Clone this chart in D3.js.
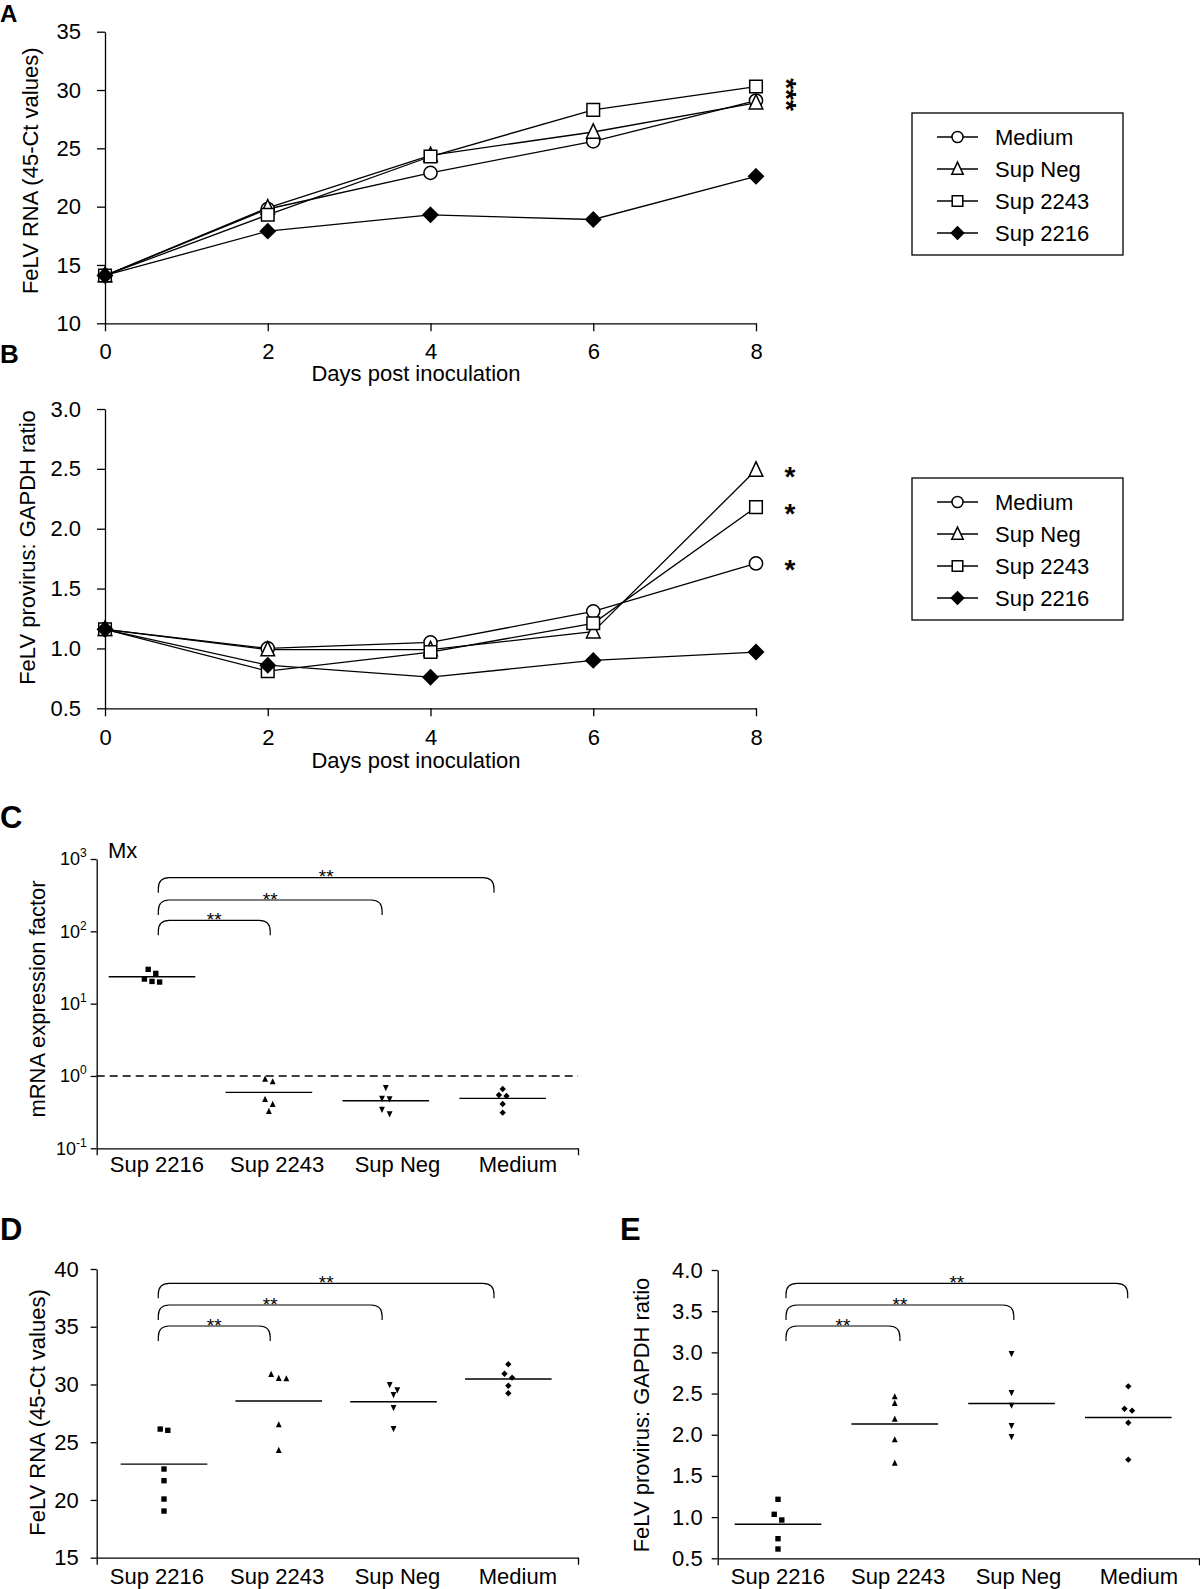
<!DOCTYPE html>
<html><head><meta charset="utf-8">
<script src="https://cdn.jsdelivr.net/npm/d3@7"></script>
<style>
body{margin:0;background:#fff}
svg{display:block}
text{font-family:'Liberation Sans',Arial,Helvetica,sans-serif;fill:#000}
</style>
</head><body><script>
// ---------------- data ----------------
const days = [0, 2, 4, 6, 8];
const rnaTicks = [10, 15, 20, 25, 30, 35];
const provTicks = [0.5, 1.0, 1.5, 2.0, 2.5, 3.0];
const seriesNames = ["Medium", "Sup Neg", "Sup 2243", "Sup 2216"];
// Panel A: FeLV RNA (45-Ct) over days
const rnaMedium  = [14.1, 19.8, 22.9, 25.6, 29.1];
const rnaSupNeg  = [14.1, 19.9, 24.4, 26.4, 28.9];
const rnaSup2243 = [14.1, 19.3, 24.3, 28.3, 30.3];
const rnaSup2216 = [14.1, 17.9, 19.3, 18.9, 22.6];
// Panel B: provirus:GAPDH over days
const provMedium  = [1.16, 1.00, 1.05, 1.31, 1.71];
const provSupNeg  = [1.16, 0.99, 0.99, 1.14, 2.49];
const provSup2243 = [1.16, 0.81, 0.97, 1.21, 2.18];
const provSup2216 = [1.16, 0.86, 0.76, 0.90, 0.97];
const sigA = "***";
const sigB = ["*", "*", "*"]; // Sup Neg, Sup 2243, Medium at day 8

// Panels C-E groups
const groups = ["Sup 2216", "Sup 2243", "Sup Neg", "Medium"];
// Panel C: Mx mRNA expression factor (log)
const mxTicks = [0.1, 1, 10, 100, 1000];
const mxSup2216 = [29.8, 26.2, 21.9, 20.3, 19.9];
const mxSup2243 = [0.909, 0.834, 0.475, 0.405, 0.324];
const mxSupNeg  = [0.689, 0.490, 0.481, 0.345, 0.298];
const mxMedium  = [0.661, 0.546, 0.529, 0.410, 0.311];
const mxMeans   = [23.6, 0.593, 0.455, 0.49];
// Panel D: FeLV RNA (45-Ct)
const rnaDTicks = [15, 20, 25, 30, 35, 40];
const rnaDSup2216 = [26.14, 26.03, 22.68, 21.67, 20.08, 19.04];
const rnaDSup2243 = [30.88, 30.53, 30.50, 26.52, 24.30];
const rnaDSupNeg  = [29.98, 29.52, 29.12, 27.99, 26.17];
const rnaDMedium  = [31.75, 30.93, 30.59, 29.89, 29.24];
const rnaDMeans   = [23.1, 28.57, 28.51, 30.47];
// Panel E: provirus:GAPDH
const provETicks = [0.5, 1.0, 1.5, 2.0, 2.5, 3.0, 3.5, 4.0];
const provESup2216 = [1.216, 1.034, 0.965, 0.738, 0.613];
const provESup2243 = [2.462, 2.382, 2.191, 1.940, 1.657];
const provESupNeg  = [2.984, 2.510, 2.357, 2.110, 1.976];
const provEMedium  = [2.588, 2.316, 2.292, 2.146, 1.697];
const provEMeans   = [0.913, 2.13, 2.38, 2.21];
const sigBrackets = ["**", "**", "**"]; // Sup 2216 vs Sup 2243, Sup Neg, Medium

// ---------------- drawing ----------------
const svg = d3.select("body").append("svg").attr("width", 1200).attr("height", 1589);
const FS = 22;

function shape(kind) {
  return { draw(ctx, size) {
    const s = Math.sqrt(size) / 14;
    if (kind === "circle") { const r = 6.6 * s; ctx.moveTo(r, 0); ctx.arc(0, 0, r, 0, 2 * Math.PI); }
    else if (kind === "square") { const h = 6.3 * s; ctx.rect(-h, -h, 2 * h, 2 * h); }
    else if (kind === "triangle") { ctx.moveTo(0, -8.2 * s); ctx.lineTo(6.8 * s, 6.2 * s); ctx.lineTo(-6.8 * s, 6.2 * s); ctx.closePath(); }
    else if (kind === "tdown") { ctx.moveTo(0, 8.2 * s); ctx.lineTo(6.8 * s, -6.2 * s); ctx.lineTo(-6.8 * s, -6.2 * s); ctx.closePath(); }
    else if (kind === "diamond") { const h = 7.4 * s; ctx.moveTo(0, -h); ctx.lineTo(h, 0); ctx.lineTo(0, h); ctx.lineTo(-h, 0); ctx.closePath(); }
  }};
}
const lineStyle = {
  "Medium":   { kind: "circle",   fill: "#fff" },
  "Sup Neg":  { kind: "triangle", fill: "#fff" },
  "Sup 2243": { kind: "square",   fill: "#fff" },
  "Sup 2216": { kind: "diamond",  fill: "#000" }
};
const dotKind = { "Sup 2216": "square", "Sup 2243": "triangle", "Sup Neg": "tdown", "Medium": "diamond" };

function styleAxis(g) {
  g.attr("font-size", FS).attr("font-family", null);
  g.selectAll("path,line").attr("stroke", "#000").attr("stroke-width", 1.3);
}
function panelLetter(txt, x, y, fs) {
  svg.append("text").attr("x", x).attr("y", y).attr("font-size", fs).attr("font-weight", "bold").text(txt);
}
function yTitle(txt, x, y) {
  svg.append("text").attr("transform", `translate(${x},${y}) rotate(-90)`)
    .attr("text-anchor", "middle").attr("font-size", FS).text(txt);
}

// ---- line panels (A, B) ----
function linePanel(o) {
  const x = d3.scaleLinear().domain([0, 8]).range([105, 756]);
  const y = d3.scaleLinear().domain(o.domain).range(o.range);
  svg.append("g").attr("transform", `translate(0,${o.range[0]})`)
    .call(d3.axisBottom(x).tickValues(days).tickSize(8).tickSizeOuter(0).tickPadding(o.xPad)).call(styleAxis);
  svg.append("g").attr("transform", `translate(${x.range()[0]},0)`)
    .call(d3.axisLeft(y).tickValues(o.ticks).tickSize(8).tickSizeOuter(0).tickPadding(16).tickFormat(o.fmt)).call(styleAxis);
  svg.append("text").attr("x", 416).attr("y", o.range[0] + o.titleOff).attr("text-anchor", "middle")
    .attr("font-size", FS).text("Days post inoculation");
  const line = d3.line().x((d, i) => x(days[i])).y(d => y(d));
  const g = svg.append("g");
  o.series.forEach(vals => g.append("path").attr("d", line(vals)).attr("fill", "none")
    .attr("stroke", "#000").attr("stroke-width", 1.3));
  o.series.forEach((vals, si) => {
    const st = lineStyle[seriesNames[si]];
    g.selectAll(null).data(vals).join("path")
      .attr("transform", (d, i) => `translate(${x(days[i])},${y(d)})`)
      .attr("d", d3.symbol().type(shape(st.kind)).size(196)())
      .attr("fill", st.fill).attr("stroke", "#000").attr("stroke-width", 1.5);
  });
  // legend
  const lg = svg.append("g").attr("transform", `translate(${o.legend[0]},${o.legend[1]})`);
  lg.append("rect").attr("x", 0).attr("y", 0).attr("width", 211).attr("height", 142)
    .attr("fill", "#fff").attr("stroke", "#000").attr("stroke-width", 1.3);
  seriesNames.forEach((nm, i) => {
    const yy = 24 + i * 32;
    lg.append("line").attr("x1", 25).attr("x2", 66).attr("y1", yy).attr("y2", yy).attr("stroke", "#000").attr("stroke-width", 1.3);
    lg.append("path").attr("transform", `translate(45.5,${yy})`)
      .attr("d", d3.symbol().type(shape(lineStyle[nm].kind)).size(138)())
      .attr("fill", lineStyle[nm].fill).attr("stroke", "#000").attr("stroke-width", 1.5);
    lg.append("text").attr("x", 83).attr("y", yy).attr("dy", "0.36em").attr("font-size", FS).text(nm);
  });
  return { x, y };
}

// Panel A
panelLetter("A", 0, 22, 24);
const pA = linePanel({ domain: [10, 35], range: [323.3, 31.7], ticks: rnaTicks, fmt: d3.format("d"), xPad: 12,
  titleOff: 57.5, series: [rnaMedium, rnaSupNeg, rnaSup2243, rnaSup2216], legend: [912, 113] });
yTitle("FeLV RNA (45-Ct values)", 37.5, 170.8);
// stacked "***" drawn as one vertical string
svg.append("text")
  .attr("transform", `translate(${pA.x(8) + 34 - 13},${pA.y(rnaSup2243[4]) + 8}) rotate(90)`)
  .attr("text-anchor", "middle").attr("font-size", 28).attr("font-weight", "bold").text(sigA);

// Panel B
panelLetter("B", 0, 363, 26);
const pB = linePanel({ domain: [0.5, 3.0], range: [708.3, 409], ticks: provTicks, fmt: d3.format(".1f"), xPad: 13.5,
  titleOff: 59.2, series: [provMedium, provSupNeg, provSup2243, provSup2216], legend: [912, 478] });
yTitle("FeLV provirus: GAPDH ratio", 35, 547.5);
[provSupNeg[4], provSup2243[4], provMedium[4]].forEach((v, i) => {
  svg.append("text").attr("x", pB.x(8) + 34).attr("y", pB.y(v) + 16).attr("text-anchor", "middle")
    .attr("font-size", 28).attr("font-weight", "bold").text(sigB[i]);
});

// ---- dot panels (C, D, E) ----
function swarm(vals, yS, cx, step, thr) {
  const pts = vals.map(v => ({ v, py: yS(v) })).sort((a, b) => a.py - b.py);
  const rows = [];
  pts.forEach(p => {
    const r = rows[rows.length - 1];
    if (r && p.py - r[0].py < thr) r.push(p); else rows.push([p]);
  });
  rows.forEach(r => r.forEach((p, i) => p.px = cx + (i - (r.length - 1) / 2) * step));
  return pts;
}
function dotPanel(o) {
  const xb = d3.scaleBand().domain(groups).range(o.xRange);
  const xp = d3.scalePoint().domain(groups).range(o.dotRange);
  const xr = d3.scalePoint().domain(groups).range(o.brRange);
  const y = o.y;
  const [yBot, yTop] = y.range();
  svg.append("g").attr("transform", `translate(0,${yBot})`)
    .call(d3.axisBottom(xb).tickSize(0).tickSizeOuter(7).tickPadding(o.labPad)).call(styleAxis);
  const ya = svg.append("g").attr("transform", `translate(${o.xRange[0]},0)`)
    .call(d3.axisLeft(y).tickValues(o.ticks).tickSize(6).tickSizeOuter(0).tickPadding(o.tickPad).tickFormat(o.fmt || null))
    .call(styleAxis);
  if (o.sup) {
    ya.selectAll(".tick text").attr("font-size", 18).each(function (d) {
      const t = d3.select(this); t.text(null);
      t.append("tspan").text("10");
      t.append("tspan").attr("dy", -8).attr("font-size", 12).text(String(Math.round(Math.log10(d))));
    });
  }
  if (o.refLine !== undefined) {
    svg.append("line").attr("x1", o.xRange[0]).attr("x2", o.xRange[1]).attr("y1", y(o.refLine)).attr("y2", y(o.refLine))
      .attr("stroke", "#000").attr("stroke-width", 1.3).attr("stroke-dasharray", "8,5");
  }
  const hw = xb.bandwidth() * 0.36;
  groups.forEach((gname, gi) => {
    const cx = xp(gname);
    svg.append("line").attr("x1", cx - hw).attr("x2", cx + hw).attr("y1", y(o.means[gi])).attr("y2", y(o.means[gi]))
      .attr("stroke", "#000").attr("stroke-width", 1.4);
    const pts = swarm(o.data[gi], y, cx, 7.6, 5.8);
    svg.append("g").selectAll("path").data(pts).join("path")
      .attr("transform", p => `translate(${p.px},${p.py})`)
      .attr("d", d3.symbol().type(shape(dotKind[gname])).size(36)())
      .attr("fill", "#000");
  });
  // significance brackets
  const arm = 15, r = 11;
  groups.slice(1).forEach((gname, i) => {
    const x1 = xr(groups[0]), x2 = xr(gname), yy = yTop + o.brOff[i];
    const p = d3.path();
    p.moveTo(x1, yy + arm); p.lineTo(x1, yy + r); p.quadraticCurveTo(x1, yy, x1 + r, yy);
    p.lineTo(x2 - r, yy); p.quadraticCurveTo(x2, yy, x2, yy + r); p.lineTo(x2, yy + arm);
    svg.append("path").attr("d", p.toString()).attr("fill", "none").attr("stroke", "#000").attr("stroke-width", 1.2);
    svg.append("text").attr("x", (x1 + x2) / 2).attr("y", yy + 5.5).attr("text-anchor", "middle")
      .attr("font-size", 19).text(sigBrackets[i]);
  });
}

// Panel C
panelLetter("C", 0, 828, 31);
dotPanel({ xRange: [96.7, 578], dotRange: [152, 502.7], brRange: [158.3, 494],
  y: d3.scaleLog().domain([0.1, 1000]).range([1148.3, 859]), ticks: mxTicks, sup: true, tickPad: 4, labPad: 8,
  refLine: 1, means: mxMeans, data: [mxSup2216, mxSup2243, mxSupNeg, mxMedium], brOff: [61.3, 41, 18.7] });
svg.append("text").attr("x", 108).attr("y", 858).attr("font-size", FS).text("Mx");
yTitle("mRNA expression factor", 45, 999);

// Panel D
panelLetter("D", 0, 1240, 31);
dotPanel({ xRange: [96.7, 578], dotRange: [164, 508.3], brRange: [158.3, 494],
  y: d3.scaleLinear().domain([15, 40]).range([1557.7, 1269]), ticks: rnaDTicks, fmt: d3.format("d"), tickPad: 12, labPad: 10.5,
  means: rnaDMeans, data: [rnaDSup2216, rnaDSup2243, rnaDSupNeg, rnaDMedium], brOff: [57, 36, 14.3] });
yTitle("FeLV RNA (45-Ct values)", 45, 1412.5);

// Panel E
panelLetter("E", 620, 1240, 31);
dotPanel({ xRange: [717.7, 1199], dotRange: [778, 1128.3], brRange: [786, 1127.7],
  y: d3.scaleLinear().domain([0.5, 4.0]).range([1558.3, 1270]), ticks: provETicks, fmt: d3.format(".1f"), tickPad: 9, labPad: 10,
  means: provEMeans, data: [provESup2216, provESup2243, provESupNeg, provEMedium], brOff: [56, 35, 13.3] });
yTitle("FeLV provirus: GAPDH ratio", 649, 1415);
</script></body></html>
